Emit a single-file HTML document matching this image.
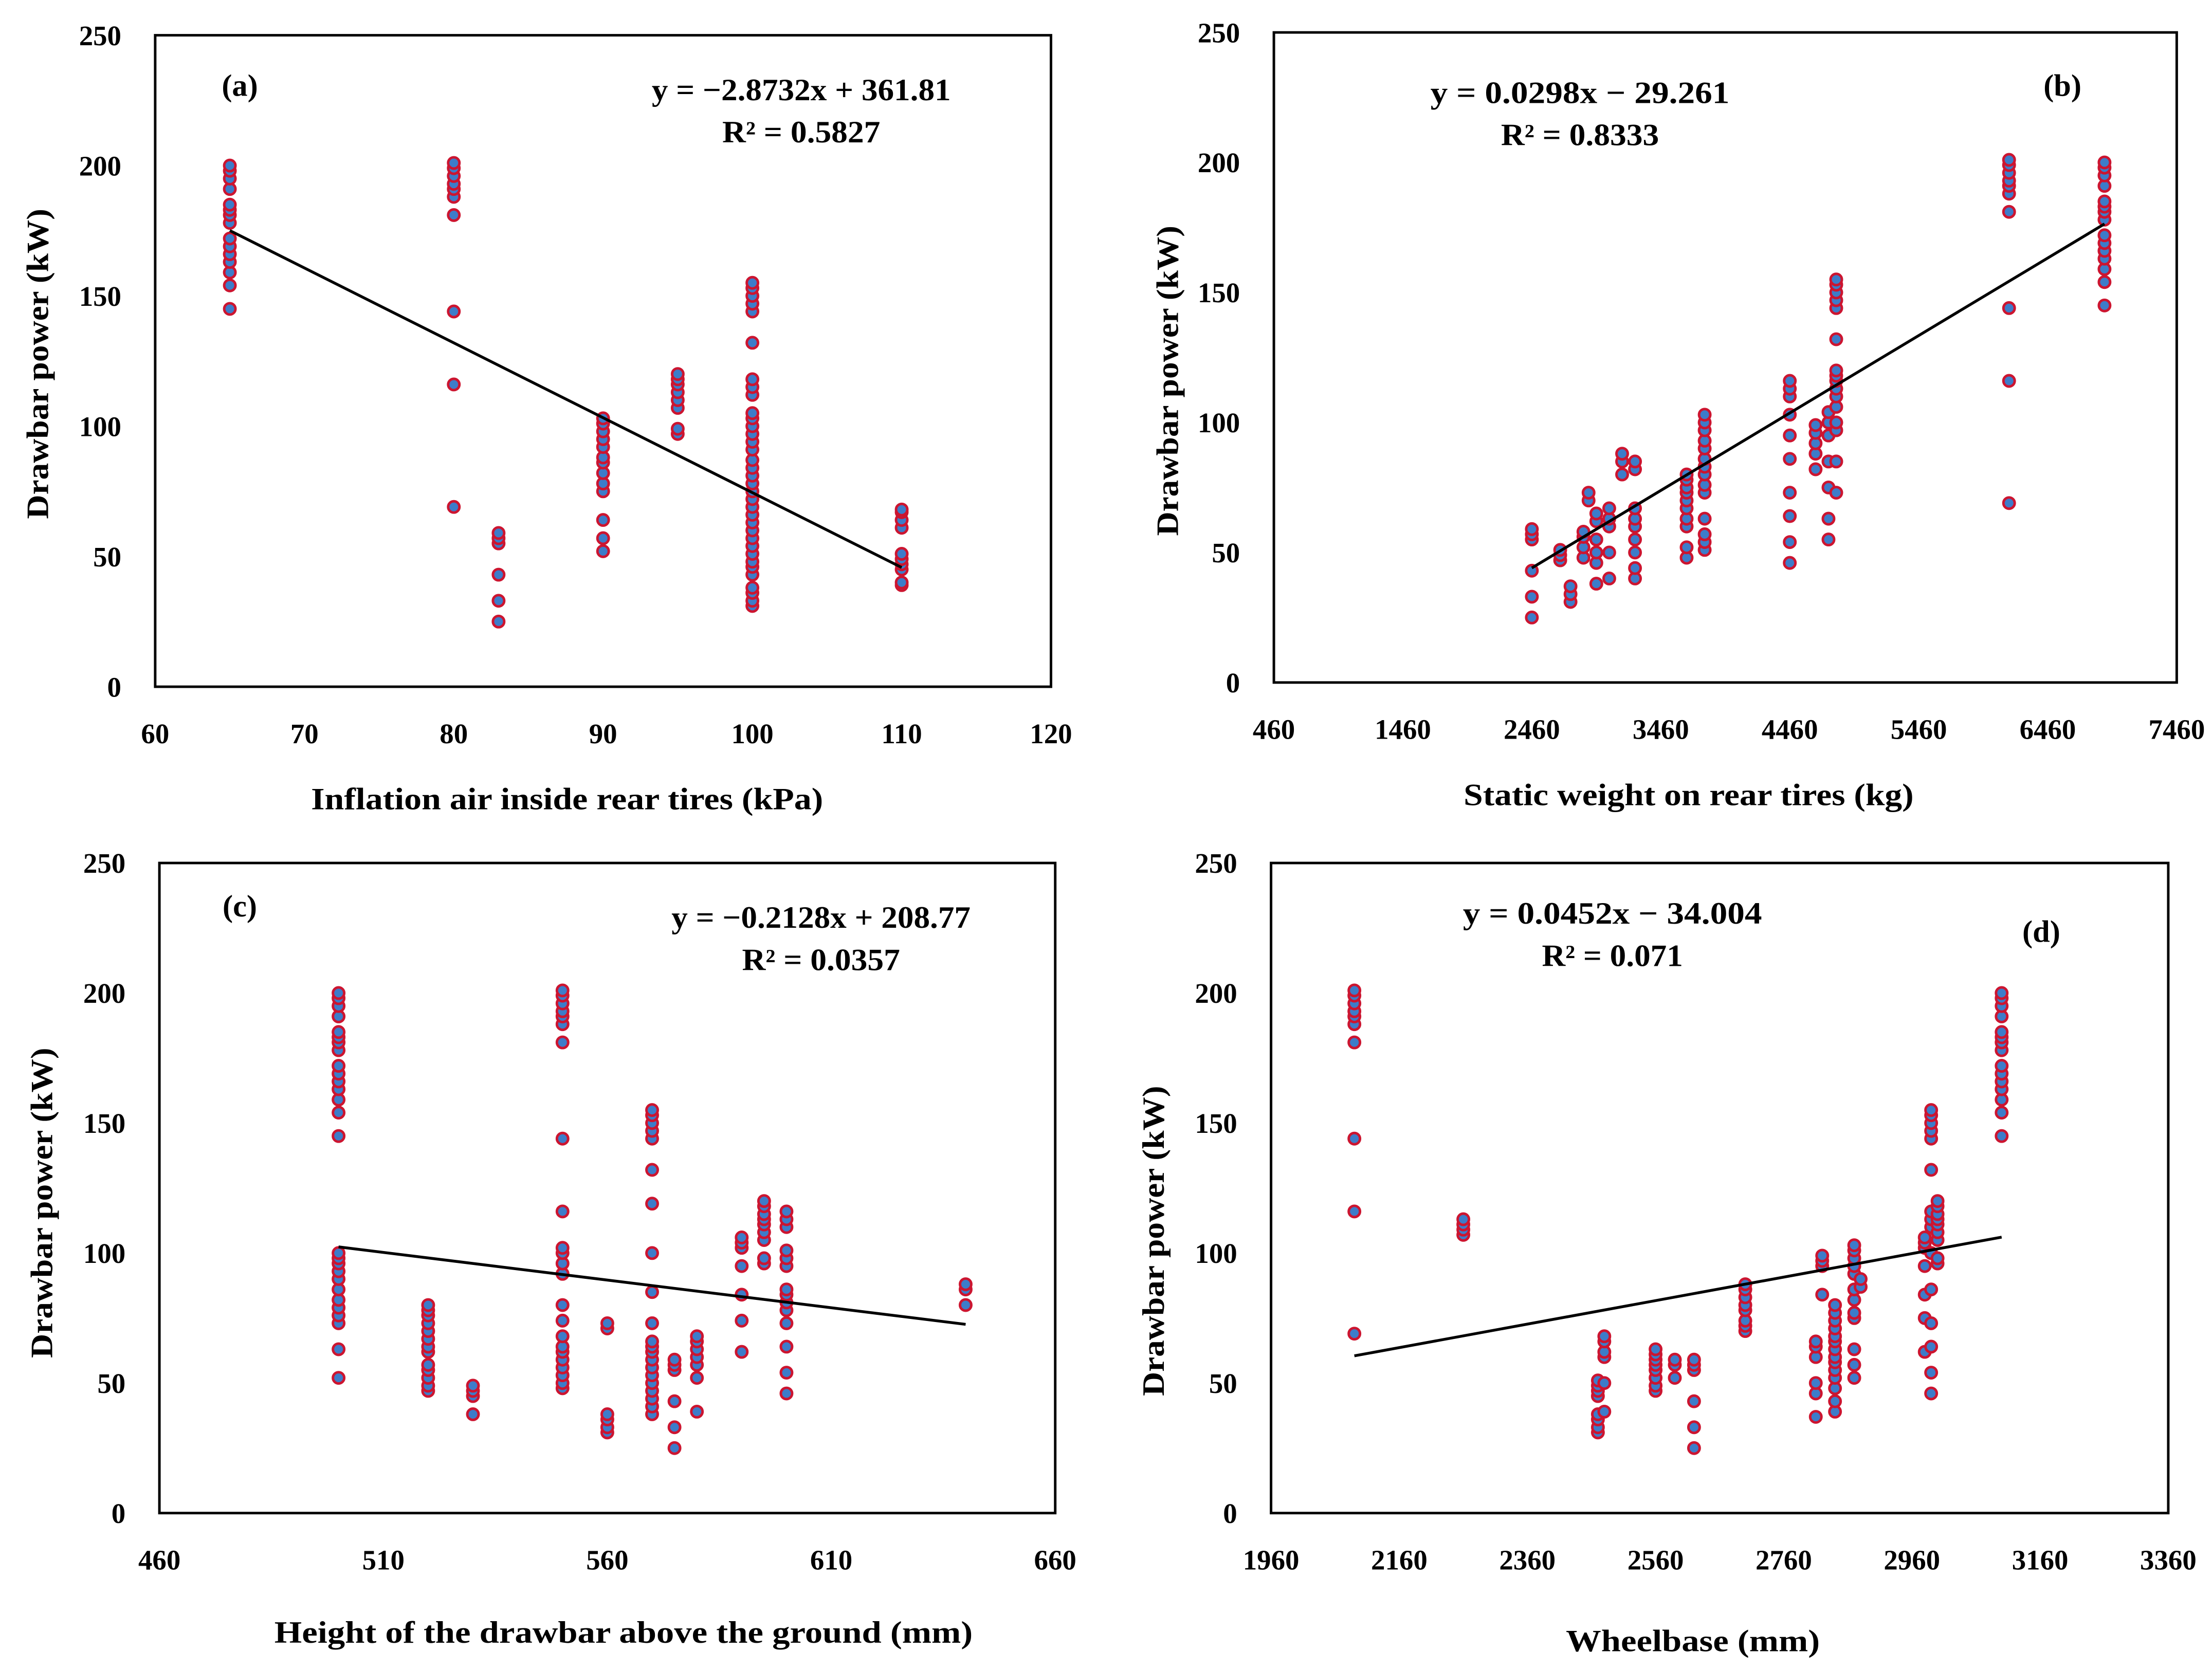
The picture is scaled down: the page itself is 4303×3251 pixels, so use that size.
<!DOCTYPE html>
<html><head><meta charset="utf-8"><style>
html,body{margin:0;padding:0;background:#fff;}
svg{display:block;}
text{font-family:"Liberation Serif",serif;font-weight:bold;fill:#000;}
</style></head><body>
<svg id="fig" width="4303" height="3251" viewBox="0 0 1568 1185" preserveAspectRatio="none" xmlns="http://www.w3.org/2000/svg"></svg>
<script>
// Panel (a)
const aX = [65, 80, 83, 90, 95, 100, 110];
const aY = [[145,154,159,163,166,169,172,178,181,183,185,191,195,198,200],[69,116,144,181,188,191,193,196,199,201],[25,33,43,55,57,59],[52,57,64,75,78,82,86,88,92,95,98,101,103],[97,99,107,110,113,116,118,120],[31,33,36,38,43,46,48,51,54,57,60,63,66,69,72,75,78,81,84,87,91,94,97,100,103,105,112,115,118,132,144,147,150,153,155],[39,40,45,47,49,51,61,64,67,68]];
const aTicksX = [60,70,80,90,100,110,120];
const aFit = [-2.8732, 361.81, 65, 110];
// Panel (b)
const bX = [2460,2680,2760,2860,2900,2960,3060,3160,3260,3660,3800,4460,4660,4760,4820,6160,6900];
const bY = [[25,33,43,55,57,59],[47,49,51],[31,34,37],[48,52,56,58],[70,73],[38,46,50,55,62,65],[40,50,60,63,67],[80,85,88],[40,44,50,55,60,63,67,82,85],[48,52,60,63,67,70,73,75,78,80],[51,54,57,63,73,76,80,83,86,90,93,97,100,103],[46,54,64,73,86,95,103,110,113,116],[82,88,92,96,99],[55,63,75,85,95,100,104],[73,85,97,100,106,110,113,116,118,120,132,144,147,150,153,155],[69,116,144,181,188,191,193,196,199,201],[145,154,159,163,166,169,172,178,181,183,185,191,195,198,200]];
const bTicksX = [460,1460,2460,3460,4460,5460,6460,7460];
const bFit = [0.0298, -29.261, 2460, 6900];
// Panel (c)
const cX = [500,520,530,550,560,570,575,580,590,595,600,640];
const cY = [[52,63,73,76,79,82,86,90,93,96,98,100,145,154,159,163,166,169,172,178,181,183,185,191,195,198,200],[47,49,52,55,57,62,64,67,70,73,76,78,80],[38,45,47,49],[48,50,53,56,59,62,64,68,74,80,92,96,100,102,116,144,181,188,191,193,196,199,201],[31,33,36,38,71,73],[38,41,44,47,50,53,56,59,62,64,66,73,85,100,119,132,144,147,150,153,155],[25,33,43,55,57,59],[39,52,57,60,63,66,68],[62,74,84,95,102,104,106],[96,98,105,108,111,113,115,118,120],[46,54,64,73,78,81,84,86,95,98,101,110,113,116],[80,86,88]];
const cTicksX = [460,510,560,610,660];
const cFit = [-0.2128, 208.77, 500, 640];
// Panel (d)
const dX = [2090,2260,2470,2480,2560,2590,2620,2700,2810,2820,2840,2870,2880,2980,2990,3000,3100];
const dY = [[69,116,144,181,188,191,193,196,199,201],[107,109,111,113],[31,33,36,38,45,47,49,51],[39,50,60,62,66,68],[47,49,52,55,57,59,61,63],[52,57,59],[25,33,43,55,57,59],[70,72,74,78,80,83,86,88],[37,46,50,60,64,66],[84,95,97,99],[39,43,48,52,55,58,60,63,66,68,71,74,77,80],[52,57,63,75,77,82,86,92,95,98,101,103],[87,90],[62,75,84,95,102,104,106],[46,54,64,73,86,100,110,113,116,132,144,147,150,153,155],[96,98,105,108,111,113,115,118,120],[145,154,159,163,166,169,172,178,181,183,185,191,195,198,200]];
const dTicksX = [1960,2160,2360,2560,2760,2960,3160,3360];
const dFit = [0.0452, -34.004, 2090, 3100];
const yTicks = [0,50,100,150,200,250];

const NS = "http://www.w3.org/2000/svg";
const svg = document.getElementById('fig');
function mk(tag, attrs, parent){const e=document.createElementNS(NS,tag);for(const k in attrs)e.setAttribute(k,attrs[k]);(parent||svg).appendChild(e);return e;}

function panel(p){
  const g = mk('g',{});
  
  
  const sx = v => p.L + (v - p.xmin)/(p.xmax - p.xmin)*(p.R - p.L);
  const sy = v => p.B - v/250*(p.B - p.T);
  const box = mk('rect',{x:p.L,y:p.T,width:p.R-p.L,height:p.B-p.T,fill:'none',stroke:'#000','stroke-width':1.8},g);
  
  
  yTicks.forEach(v=>{
    const t = mk('text',{x:p.L-24,y:sy(v)+7,'text-anchor':'end','font-size':20},g);
    
    
    t.textContent = v;
  });
  p.ticks.forEach(v=>{
    const t = mk('text',{x:sx(v),y:p.B+40,'text-anchor':'middle','font-size':20},g);
    
    
    t.textContent = v;
  });
  const pts = mk('g',{},g);
  
  
  p.xs.forEach((x,i)=>{
    p.ys[i].forEach(y=>{
      const c = mk('circle',{cx:sx(x),cy:sy(y),r:4,fill:'#3d7cc9',stroke:'#cc1530','stroke-width':1.8},pts);
      
      
    });
  });
  const [m,b,x0,x1] = p.fit;
  const ln = mk('line',{x1:sx(x0),y1:sy(m*x0+b),x2:sx(x1),y2:sy(m*x1+b),stroke:'#000','stroke-width':2},g);
  
  
  const yt = mk('text',{x:0,y:0,'text-anchor':'middle','font-size':22,textLength:220,lengthAdjust:'spacingAndGlyphs',transform:`translate(${p.ytx},${p.yty}) rotate(-90)`},g);
  
  
  yt.textContent = 'Drawbar power (kW)';
  const xt = mk('text',{x:p.xtx,y:p.xty,'text-anchor':'middle','font-size':22,textLength:p.xtw,lengthAdjust:'spacingAndGlyphs'},g);
  
  
  xt.textContent = p.xtitle;
  const lab = mk('text',{x:p.labx,y:p.laby,'text-anchor':'middle','font-size':22},g);
  
  
  lab.textContent = '('+p.id+')';
  const eq = mk('text',{x:p.eqx,y:p.eqy,'text-anchor':'middle','font-size':22,textLength:212,lengthAdjust:'spacingAndGlyphs'},g);
  
  
  eq.textContent = p.eq;
  const r2 = mk('text',{x:p.eqx,y:p.eqy+30,'text-anchor':'middle','font-size':22,textLength:p.r2w,lengthAdjust:'spacingAndGlyphs'},g);
  
  
  r2.textContent = p.r2;
}

panel({id:'a',L:110,R:745,T:25,B:487,xmin:60,xmax:120,ticks:aTicksX,xs:aX,ys:aY,fit:aFit,
  ytx:34,yty:258,xtx:402,xty:574,xtw:363,xtitle:'Inflation air inside rear tires (kPa)',labx:170,laby:68,eqx:568,eqy:71,eq:'y = \u22122.8732x + 361.81',r2:'R\u00b2 = 0.5827',r2w:112});
panel({id:'b',L:903,R:1543,T:23,B:484,xmin:460,xmax:7460,ticks:bTicksX,xs:bX,ys:bY,fit:bFit,
  ytx:835,yty:270,xtx:1197,xty:571,xtw:319,xtitle:'Static weight on rear tires (kg)',labx:1462,laby:68,eqx:1120,eqy:73,eq:'y = 0.0298x \u2212 29.261',r2:'R\u00b2 = 0.8333',r2w:112});
panel({id:'c',L:113,R:748,T:612,B:1073,xmin:460,xmax:660,ticks:cTicksX,xs:cX,ys:cY,fit:cFit,
  ytx:37,yty:853,xtx:442,xty:1165,xtw:495,xtitle:'Height of the drawbar above the ground (mm)',labx:170,laby:650,eqx:582,eqy:658,eq:'y = \u22120.2128x + 208.77',r2:'R\u00b2 = 0.0357',r2w:112});
panel({id:'d',L:901,R:1537,T:612,B:1073,xmin:1960,xmax:3360,ticks:dTicksX,xs:dX,ys:dY,fit:dFit,
  ytx:825,yty:880,xtx:1200,xty:1171,xtw:180,xtitle:'Wheelbase (mm)',labx:1447,laby:668,eqx:1143,eqy:655,eq:'y = 0.0452x \u2212 34.004',r2:'R\u00b2 = 0.071',r2w:100});
</script>
</body></html>
